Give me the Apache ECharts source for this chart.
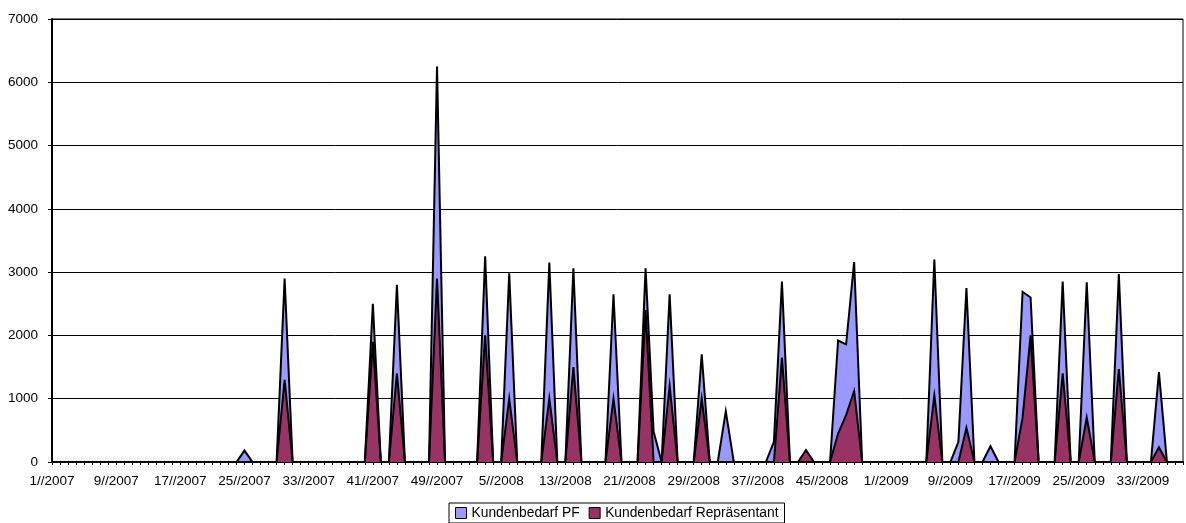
<!DOCTYPE html>
<html>
<head>
<meta charset="utf-8">
<script src="https://cdn.jsdelivr.net/npm/echarts@6/dist/echarts.min.js"></script>
<style>
html,body{margin:0;padding:0;background:#fff;}
#chart{width:1186px;height:523px;}
</style>
</head>
<body>
<div id="chart"></div>
<script>
// Week counts per year shown on the axis (2009 ends at week 38)
const years = [2007, 2008, 2009];
const weeksPerYear = [52, 52, 38];
const categories = [];
years.forEach(function (y, k) {
  for (let w = 1; w <= weeksPerYear[k]; w++) categories.push(w + '//' + y);
});

const seriesNames = ['Kundenbedarf PF', 'Kundenbedarf Repräsentant'];

// Kundenbedarf PF (142 weekly values)
const pfValues = [
  0,0,0,0,0,0,0,0,0,0,
  0,0,0,0,0,0,0,0,0,0,
  0,0,0,0,180,0,0,0,0,2900,
  0,0,0,0,0,0,0,0,0,0,
  2500,0,0,2800,0,0,0,0,6250,0,
  0,0,0,0,3250,0,0,2980,0,0,
  0,0,3150,0,0,3060,0,0,0,0,
  2650,0,0,0,3060,480,0,2650,0,0,
  0,1700,0,0,800,0,0,0,0,0,
  320,2850,0,0,0,0,0,0,1920,1860,
  3160,0,0,0,0,0,0,0,0,0,
  3200,0,0,320,2750,0,0,250,0,0,
  0,2690,2600,0,0,0,2850,0,0,2840,
  0,0,0,2970,0,0,0,0,1420,0,
  0,0
];

// Kundenbedarf Repräsentant (142 weekly values)
const repValues = [
  0,0,0,0,0,0,0,0,0,0,
  0,0,0,0,0,0,0,0,0,0,
  0,0,0,0,0,0,0,0,0,1300,
  0,0,0,0,0,0,0,0,0,0,
  1900,0,0,1400,0,0,0,0,2900,0,
  0,0,0,0,2000,0,0,1000,0,0,
  0,0,1000,0,0,1500,0,0,0,0,
  1000,0,0,0,2400,0,0,1200,0,0,
  0,1000,0,0,0,0,0,0,0,0,
  0,1650,0,0,190,0,0,0,450,740,
  1120,0,0,0,0,0,0,0,0,0,
  1050,0,0,0,540,0,0,0,0,0,
  0,700,2000,0,0,0,1400,0,0,700,
  0,0,0,1470,0,0,0,0,230,0,
  0,0
];

const yTicks = { min: 0, max: 7000, interval: 1000 };
const colors = ['#9999FF', '#993366'];
const FONT = '"Liberation Sans", Arial, Helvetica, sans-serif';

const chart = echarts.init(document.getElementById('chart'), null, { renderer: 'canvas' });

function mkSeries(name, data, color) {
  return {
    name: name,
    type: 'line',
    data: data,
    symbol: 'none',
    showSymbol: false,
    smooth: false,
    lineStyle: { color: '#000', width: 2, join: 'miter' },
    areaStyle: { color: color, opacity: 1 },
    itemStyle: { color: color, borderColor: '#000', borderWidth: 1 },
    emphasis: { disabled: true },
    animation: false
  };
}

chart.setOption({
  animation: false,
  backgroundColor: '#fff',
  grid: {
    left: 52, right: 3, top: 19, bottom: 61,
    show: true, borderColor: '#000', borderWidth: 1, backgroundColor: 'transparent'
  },
  legend: {
    data: seriesNames.map(function (n) { return { name: n, icon: 'rect' }; }),
    left: 449, top: 503,
    itemWidth: 11, itemHeight: 11, itemGap: 9,
    padding: [3, 6, 3, 6],
    borderColor: '#000', borderWidth: 1,
    itemStyle: { borderColor: '#000', borderWidth: 1 },
    textStyle: { fontFamily: FONT, fontSize: 13.8, color: '#000' }
  },
  xAxis: {
    type: 'category',
    data: categories,
    boundaryGap: false,
    axisLine: { show: true, lineStyle: { color: '#000', width: 2 } },
    axisTick: { show: true, interval: 0, length: 3, lineStyle: { color: '#000', width: 1 } },
    axisLabel: { interval: 7, margin: 12, fontFamily: FONT, fontSize: 13.5, color: '#000' },
    splitLine: { show: false }
  },
  yAxis: {
    type: 'value',
    min: yTicks.min, max: yTicks.max, interval: yTicks.interval,
    axisLine: { show: true, lineStyle: { color: '#000', width: 2 } },
    axisTick: { show: true, length: 4, lineStyle: { color: '#000', width: 1 } },
    axisLabel: {
      margin: 14, fontFamily: FONT, fontSize: 13.5, color: '#000',
      formatter: function (v) { return String(v); }
    },
    splitLine: { show: true, lineStyle: { color: '#000', width: 1 } }
  },
  series: [
    mkSeries(seriesNames[0], pfValues, colors[0]),
    mkSeries(seriesNames[1], repValues, colors[1])
  ]
});
</script>
</body>
</html>
